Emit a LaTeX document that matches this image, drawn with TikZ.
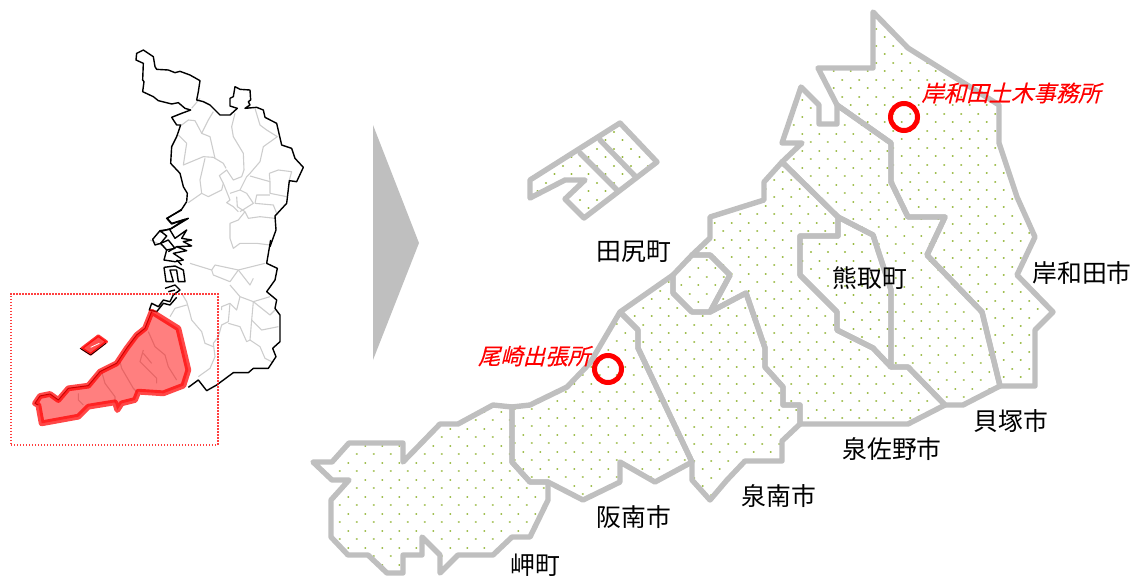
\documentclass[tikz,border=0pt]{standalone}
\usepackage{fontspec}
\setmainfont{Noto Sans CJK JP}
\newfontfamily\cjkit[FakeSlant=0.25,FakeBold=0.25]{Noto Sans CJK JP}
\usetikzlibrary{calc}
\definecolor{mapgray}{HTML}{BFBFBF}
\definecolor{thin}{HTML}{CDCDCD}
\definecolor{dotgreen}{HTML}{97B840}
\definecolor{hotred}{HTML}{FF0000}
\tikzset{
  border/.style={draw=mapgray,line width=5.4pt,line join=round,line cap=round},
  dotrow/.style={draw=dotgreen,line width=2.2pt,line cap=round,dash pattern=on 0.01pt off 16.99pt},
  zA/.style={shift={(0,30)},x=0.33333pt,y=-0.33333pt},
  zB/.style={shift={(0,240)},x=0.33333pt,y=-0.33333pt},
  zC/.style={shift={(140,210)},x=0.33333pt,y=-0.33333pt},
  zD/.style={shift={(160,150)},x=0.33333pt,y=-0.33333pt},
  zE/.style={shift={(150,260)},x=0.33333pt,y=-0.33333pt},
  coast/.style={draw=black,line width=1.4pt,line join=round},
  ward/.style={draw=thin,line width=1.1pt,line join=round},
  lab/.style={font=\fontsize{24.8}{25}\selectfont,inner sep=0pt,text=black},
  office/.style={font=\cjkit\fontsize{22.4}{23}\selectfont,inner sep=0pt,text=hotred},
  ring/.style={draw=hotred,line width=5pt,circle,minimum size=27pt,inner sep=0pt},
}
\newcommand{\region}[3]{%
  \begin{scope}
    \clip #1;
    \foreach \k in {-40,...,40}{
      \pgfmathsetmacro{\xs}{#2-680+8.5*mod(\k+40,2)}
      \pgfmathsetmacro{\ys}{#3+8.5*\k}
      \draw[dotrow] (\xs,\ys) -- ++(1400,0);
    }
  \end{scope}
  \path[border] #1;
}
\begin{document}
\begin{tikzpicture}[x=1pt,y=-1pt]
\useasboundingbox (0,0) rectangle (1137,576);

% ---- left overview map: district lines
\begin{scope}[zA]
\draw[ward] (600,205)--(575,235);
\draw[ward] (545,285)--(565,270)--(585,272)--(600,300)--(605,310)--(625,270)--(640,245);
\draw[ward] (535,315)--(560,340)--(550,405)--(610,380)--(640,382)--(670,400)--(678,415);
\draw[ward] (605,310)--(630,320)--(645,385);
\draw[ward] (705,250)--(695,290)--(700,320)--(730,370)--(732,420)--(725,440)--(700,450)--(680,420)--(658,437)--(670,460)--(690,510)--(680,518)--(700,530)--(715,545);
\draw[ward] (615,385)--(600,450)--(605,490)--(625,500)--(665,480)--(670,460);
\draw[ward] (605,490)--(565,518);
\draw[ward] (765,235)--(780,285)--(800,300)--(832,320)--(790,350)--(780,395)--(750,430)--(740,440)--(720,480)--(690,490);
\draw[ward] (750,438)--(810,455)--(810,490)--(860,500);
\draw[ward] (810,455)--(808,430)--(835,420)--(875,425)--(868,450);
\draw[ward] (720,480)--(740,490)--(760,520)--(720,545);
\draw[ward] (710,500)--(712,530)--(735,545);
\draw[ward] (765,520)--(770,495)--(810,495);
\draw[ward] (765,520)--(820,525)--(830,550);
\draw[ward] (735,545)--(745,565)--(780,560)--(825,565);
\draw[ward] (735,545)--(715,570)--(690,580)--(690,625)--(700,655)--(720,640)--(770,640)--(810,645);
\end{scope}
\begin{scope}[zE]
\draw[ward] (0,-60)--(45,-40);
\draw[ward] (120,10)--(185,30)--(195,15)--(265,30)--(345,10);
\draw[ward] (185,30)--(190,45)--(240,65)--(265,30);
\draw[ward] (240,75)--(270,110)--(310,125)--(360,110);
\draw[ward] (265,30)--(300,75)--(310,55);
\draw[ward] (270,110)--(260,150)--(240,130)--(215,140)--(215,150);
\draw[ward] (240,130)--(235,185)--(215,195)--(205,230);
\draw[ward] (310,125)--(305,180)--(335,210)--(385,200);
\draw[ward] (305,180)--(300,240)--(290,245)--(270,200)--(235,190);
\draw[ward] (310,125)--(360,165)--(375,150);
\draw[ward] (300,240)--(330,260)--(345,295)--(365,305);
\draw[ward] (205,230)--(190,250)--(195,290)--(180,325)--(145,350);
\draw[ward] (95,100)--(110,125)--(120,160)--(125,180)--(155,215)--(165,250)--(190,260);
\draw[ward] (110,135)--(75,145)--(60,170);
\end{scope}
% lines seen through the red area
\begin{scope}[zB]
\draw[ward] (445,275)--(465,320)--(495,345)--(505,380)--(530,420);
\draw[ward] (430,330)--(420,365)--(470,415)--(470,430);
\draw[ward] (430,340)--(455,370);
\draw[ward] (360,365)--(365,385)--(400,445)--(410,455);
\draw[ward] (305,395)--(315,430)--(345,470)--(345,490);
\draw[ward] (235,460)--(235,480)--(250,495);
\end{scope}

% ---- left overview map: black outline
\begin{scope}[zA]
\draw[coast] (560,515)--(562,490)--(550,470)--(540,430)--(512,400)--(515,350)--(530,320)--(542,285)--(530,285)--(515,262)--(545,250)--(572,240)--(555,235)--(535,218)--(515,222)--(475,212)--(460,200)--(428,185)--(432,155)--(428,150)--(430,100)--(408,90)--(410,70)--(430,60)--(445,70)--(460,80)--(465,110)--(470,118)--(505,120)--(525,128)--(540,124)--(570,135)--(600,152)--(595,185)--(590,210)--(610,215)--(630,225)--(660,255)--(690,255)--(712,235)--(690,228)--(690,205)--(700,200)--(705,170)--(720,178)--(750,180)--(752,210)--(745,215)--(750,225)--(735,235)--(770,232)--(790,240)--(795,262)--(830,280)--(845,345)--(875,355)--(885,385)--(910,412)--(890,455)--(868,452)--(860,520)--(825,558)--(828,600)--(810,650);
\end{scope}
\begin{scope}[zB]
\draw[coast] (812,0)--(800,70)--(832,85)--(825,120)--(800,155)--(830,180)--(825,205)--(840,225)--(840,305)--(818,325)--(828,350)--(805,385)--(760,385)--(745,398)--(700,398)--(650,435)--(620,452)--(595,420)--(565,442);
\end{scope}
\begin{scope}[zD]
\draw[coast] (80,155)--(65,178)--(22,205)--(35,220)--(85,205)--(35,235)--(0,245);
\end{scope}
\begin{scope}[zC]
\draw[coast] (125,0)--(80,25)--(95,42)--(135,28)--(90,58)--(60,62)--(38,88)--(45,105)--(62,100)--(80,120)--(72,150)--(105,155)--(130,150)--(100,130)--(140,122)--(110,110)--(155,108)--(130,95)--(155,90)--(125,85)--(140,60)--(105,85)--(90,60);
\draw[coast] (62,100)--(85,90)--(105,115)--(80,120);
\draw[coast] (60,62)--(80,78)--(62,100);
\draw[coast] (85,125)--(110,110);
\draw[coast] (72,172)--(78,215)--(100,215)--(90,180)--(110,180)--(115,215)--(135,215)--(130,180)--(105,168)--(72,172);
\draw[coast] (75,235)--(105,225)--(120,240)--(100,255)--(90,275)--(70,270)--(55,290)--(35,280)--(28,300)--(50,305)--(70,280)--(90,285)--(110,262);
\draw[coast] (110,150)--(125,165);
\draw[coast] (85,245)--(105,240);
\end{scope}

% ---- red highlighted area
\begin{scope}[zB]
\path[draw=black,line width=1pt,line join=round] (455,215)--(435,265)--(410,285)--(380,325)--(350,370)--(300,395)--(265,437)--(205,445)--(175,480)--(150,462)--(120,468)--(105,490)--(115,495);
\path[fill=hotred,fill opacity=0.5,draw=hotred,draw opacity=0.72,line width=5.8pt,line join=round]
 (455,215)--(535,265)--(565,390)--(550,437)--(490,460)--(415,455)--(405,480)--(365,490)--(352,510)--(345,487)--(265,500)--(235,530)--(125,550)--(115,495)--(105,490)--(120,468)--(150,462)--(175,480)--(205,445)--(265,437)--(300,395)--(350,370)--(380,325)--(410,285)--(435,265)--cycle;
\path[fill=hotred,fill opacity=0.7,draw=hotred,draw opacity=0.8,line width=2.6pt,line join=round]
 (245,325)--(295,287)--(320,305)--(272,343)--cycle;
\draw[black,line width=0.7pt] (240,325)--(272,345)--(318,310);
\draw[white,line width=0.8pt] (272,322)--(298,310);
\end{scope}
\node[draw=hotred,line width=1.5pt,dash pattern=on 1.5pt off 1.5pt,inner sep=0pt,minimum width=207pt,minimum height=151pt,anchor=north west,opacity=0.75] (frame) at (10,293) {};

% ---- pointer triangle
\path[fill=mapgray] (373,125)--(419,243)--(373,360)--cycle;

% ---- right detailed map
\region{(873,12)--(908,48)--(999,105)--(999,143)--(1017,197)--(1035,237)--(1017,275)--(1053,312)--(1035,330)--(1035,386)--(1000,386)--(982,312)--(927,255)--(945,217)--(908,217)--(891,182)--(891,143)--(837,105)--(818,68)--(873,68)--cycle}{901.7}{88.3}
\region{(837,105)--(891,143)--(891,182)--(908,217)--(945,217)--(927,255)--(982,312)--(1000,386)--(963,405)--(945,405)--(908,367)--(891,367)--(891,290)--(873,235)--(838,217)--(782,162)--(802,143)--(782,143)--(801,87)--(819,105)--(819,124)--(837,124)--cycle}{938.3}{371.7}
\region{(782,162)--(838,217)--(838,236)--(800,236)--(800,275)--(837,312)--(837,330)--(873,348)--(891,367)--(908,367)--(945,405)--(908,424)--(800,424)--(800,405)--(783,405)--(783,387)--(765,367)--(765,348)--(746,293)--(710,312)--(730,275)--(710,255)--(692,255)--(710,238)--(710,217)--(764,200)--(764,182)--cycle}{731.7}{222.7}
\region{(838,217)--(873,235)--(891,290)--(891,367)--(873,348)--(837,330)--(837,312)--(800,275)--(800,236)--(838,236)--cycle}{845}{303.3}
\region{(673,275)--(692,255)--(710,255)--(730,275)--(710,312)--(692,312)--(673,293)--cycle}{698.3}{268.3}
\region{(620,312)--(673,275)--(673,293)--(692,312)--(710,312)--(746,293)--(765,348)--(765,367)--(783,387)--(783,405)--(800,405)--(800,424)--(782,441)--(782,461)--(745,461)--(727,480)--(710,500)--(692,480)--(692,462)--(638,348)--(638,330)--cycle}{651.7}{333.3}
\region{(620,312)--(638,330)--(638,348)--(692,462)--(655,482)--(620,462)--(620,482)--(583,500)--(548,482)--(530,482)--(512,462)--(512,407)--(530,405)--(567,387)--(590,363)--cycle}{608.3}{366.7}
\region{(512,407)--(512,462)--(530,482)--(548,482)--(548,500)--(530,537)--(512,537)--(493,555)--(458,555)--(440,573)--(440,555)--(422,537)--(422,555)--(403,555)--(403,573)--(387,573)--(368,555)--(348,555)--(331,537)--(331,500)--(349,480)--(332,480)--(313,462)--(332,462)--(349,443)--(403,443)--(403,462)--(440,424)--(458,424)--(493,405)--cycle}{348.3}{462.7}
\region{(620,123)--(657,162)--(584,218)--(565,199)--(585,180)--(565,180)--(530,198)--(530,180)--cycle}{614}{131.7}
\path[border] (580,153)--(617,190);
\path[border] (600,140)--(635,176);

% ---- offices
\node[ring] (ringA) at (904,117) {};
\node[ring] (ringB) at (608,369) {};
\node[office] (officeA) at (1011,93) {岸和田土木事務所};
\node[office] (officeB) at (534,356) {尾崎出張所};

% ---- names
\node[lab] (n1) at (634,252) {田尻町};
\node[lab] (n2) at (1082,273) {岸和田市};
\node[lab] (n3) at (870,278) {熊取町};
\node[lab] (n4) at (1011,421) {貝塚市};
\node[lab] (n5) at (892,449) {泉佐野市};
\node[lab] (n6) at (779,496) {泉南市};
\node[lab] (n7) at (634,517) {阪南市};
\node[lab] (n8) at (535,565) {岬町};
\end{tikzpicture}
\end{document}
